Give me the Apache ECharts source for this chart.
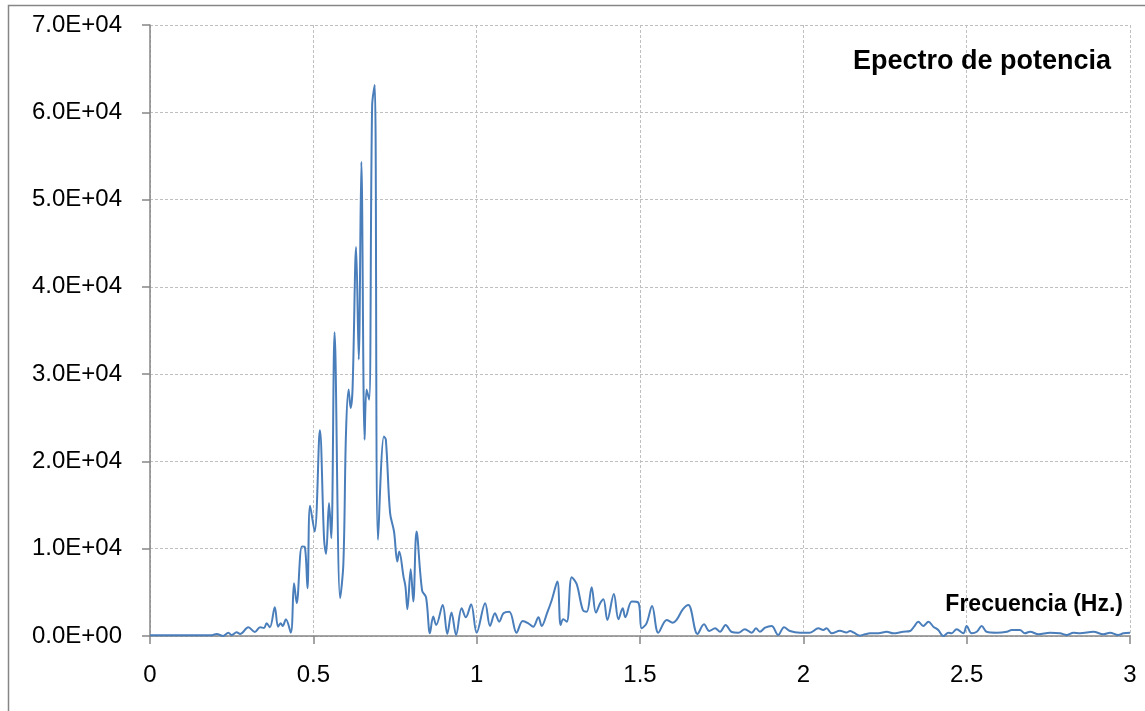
<!DOCTYPE html>
<html>
<head>
<meta charset="utf-8">
<script src="https://cdn.jsdelivr.net/npm/echarts@6/dist/echarts.min.js"></script>
<style>
html,body{margin:0;padding:0;background:#fff;}
#chart{width:1145px;height:711px;}
</style>
</head>
<body>
<div id="chart"></div>
<script>
var freq = [0.000,0.100,0.190,0.204,0.224,0.240,0.250,0.265,0.276,0.301,0.321,0.337,0.349,0.357,0.367,0.382,0.392,0.400,0.406,0.416,0.431,0.441,0.449,0.465,0.474,0.482,0.490,0.504,0.520,0.533,0.539,0.548,0.555,0.565,0.582,0.592,0.600,0.608,0.614,0.620,0.631,0.639,0.647,0.657,0.663,0.671,0.680,0.688,0.698,0.716,0.722,0.735,0.747,0.757,0.763,0.776,0.782,0.788,0.798,0.806,0.816,0.833,0.845,0.857,0.867,0.876,0.896,0.910,0.923,0.937,0.954,0.967,0.983,1.000,1.026,1.041,1.056,1.069,1.082,1.100,1.122,1.141,1.158,1.173,1.189,1.199,1.216,1.230,1.247,1.257,1.265,1.276,1.291,1.306,1.325,1.337,1.352,1.365,1.378,1.388,1.400,1.420,1.434,1.447,1.455,1.475,1.495,1.505,1.520,1.537,1.556,1.582,1.600,1.612,1.631,1.648,1.676,1.696,1.712,1.730,1.745,1.762,1.781,1.801,1.821,1.842,1.855,1.867,1.883,1.903,1.923,1.941,1.959,1.990,2.000,2.020,2.046,2.061,2.071,2.087,2.112,2.132,2.143,2.155,2.173,2.189,2.204,2.230,2.255,2.275,2.306,2.327,2.339,2.352,2.367,2.383,2.398,2.413,2.429,2.444,2.454,2.469,2.490,2.500,2.515,2.531,2.546,2.561,2.592,2.623,2.638,2.663,2.678,2.694,2.720,2.755,2.786,2.806,2.827,2.847,2.888,2.918,2.939,2.964,2.980,3.000];
var power = [80,80,100,230,0,380,110,420,230,1000,460,1000,920,1450,1000,3290,1070,1450,1150,1910,380,6050,3750,10250,10180,5470,14920,11970,23560,11020,9410,15230,11210,34810,4320,8340,23260,28230,26130,28230,44560,31670,54320,22490,28230,27080,60740,63120,11020,22870,22490,14080,11970,8530,9670,6810,5660,3060,7650,3940,11970,5200,4440,310,2220,1260,3560,230,2680,110,3180,2150,3640,380,3750,1150,2600,1640,2600,2790,380,1720,1450,1070,2150,1150,2680,4130,6230,1260,1910,1640,6730,5970,2980,2790,5590,2680,3750,4210,1840,4820,1910,3180,2150,3940,3820,880,1450,3440,380,1840,1530,1840,3060,3560,230,1340,570,880,490,1260,460,380,770,380,880,490,950,1150,110,1000,570,380,380,380,880,690,880,310,610,400,570,380,40,200,310,310,490,310,490,570,1070,1640,1150,1640,1070,690,0,380,310,770,310,1150,310,490,1150,490,380,490,690,690,310,490,200,380,310,110,380,310,490,200,380,110,310,380];
var chartTitle = "Epectro de potencia";
var xTitle = "Frecuencia (Hz.)";

function sci(v){
  if (v === 0) return "0.0E+00";
  var e = Math.floor(Math.log10(v) + 1e-9);
  var m = v / Math.pow(10, e);
  return m.toFixed(1) + "E+" + String(e).padStart(2, "0");
}

var chart = echarts.init(document.getElementById('chart'), null, {renderer:'canvas'});
var FONT = "Liberation Sans";
chart.setOption({
  animation:false,
  backgroundColor:'#ffffff',
  textStyle:{fontFamily:FONT},
  graphic:[{
    type:'rect', silent:true, z:-1,
    shape:{x:8.5,y:5.5,width:1300,height:900},
    style:{fill:'none',stroke:'#868686',lineWidth:1.5}
  }],
  title:[
    {text:chartTitle, right:29, top:43, textStyle:{fontFamily:FONT,fontSize:27,fontWeight:'bold',color:'#000'}},
    {text:xTitle, right:17, top:588, textStyle:{fontFamily:FONT,fontSize:23,fontWeight:'bold',color:'#000'}}
  ],
  grid:{left:150,right:15,top:25,bottom:75,containLabel:false},
  xAxis:{
    type:'value', min:0, max:3, interval:0.5,
    axisLine:{show:true,onZero:false,lineStyle:{color:'#868686',width:1.5}},
    axisTick:{show:true,inside:false,length:8,lineStyle:{color:'#868686',width:1.5}},
    axisLabel:{fontFamily:FONT,fontSize:24,color:'#000',margin:27,showMaxLabel:true,showMinLabel:true},
    splitLine:{show:true,lineStyle:{color:'#bfbfbf',type:[3,2],width:1}}
  },
  yAxis:{
    type:'value', min:0, max:70000, interval:10000,
    axisLine:{show:true,lineStyle:{color:'#868686',width:1.5}},
    axisTick:{show:true,inside:false,length:8,lineStyle:{color:'#868686',width:1.5}},
    axisLabel:{fontFamily:FONT,fontSize:24,color:'#000',margin:28,formatter:sci},
    splitLine:{show:true,lineStyle:{color:'#bfbfbf',type:[3,2],width:1}}
  },
  series:[{
    type:'line',
    data:freq.map(function(f,i){return [f,power[i]];}),
    smooth:0.35,
    symbol:'none',
    lineStyle:{color:'#4a7ebb',width:2},
    clip:false
  }]
});
</script>
</body>
</html>
